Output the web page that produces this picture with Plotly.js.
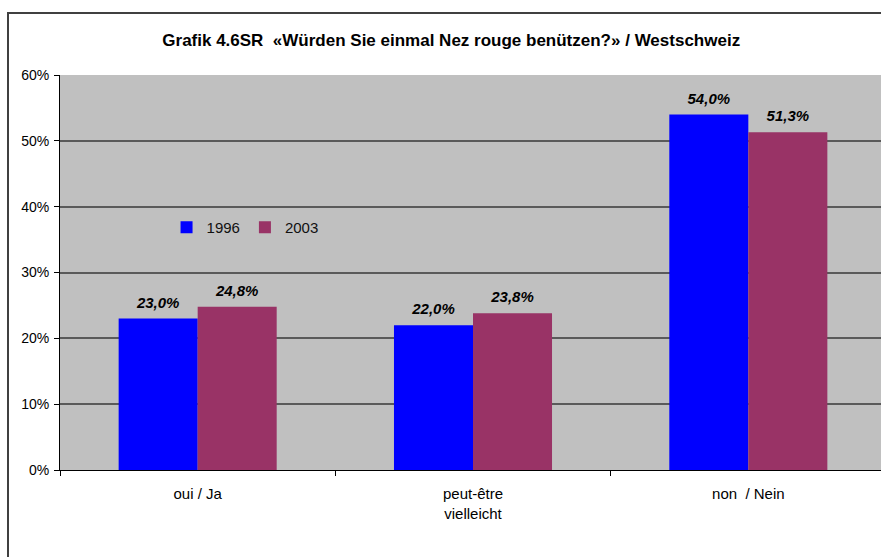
<!DOCTYPE html>
<html>
<head>
<meta charset="utf-8">
<script src="https://cdn.plot.ly/plotly-3.0.1.min.js"></script>
<style>
  body { margin: 0; overflow: hidden; background: #fff; }
  #frame { position: absolute; left: 7px; top: 12px; width: 900px; height: 600px;
           border: 2px solid #404040; pointer-events: none; z-index: 10; }
</style>
</head>
<body>
<div id="myDiv" style="width:890px;height:557px;"></div>
<div id="frame"></div>
<script>
var categories = ['oui / Ja', 'peut-être<br>vielleicht', 'non  / Nein'];
var years = ['1996', '2003'];
var values1996 = [0.230, 0.220, 0.540];
var values2003 = [0.248, 0.238, 0.513];
var colors = ['#0000ff', '#993366'];

var labelFont = { family: 'Arial, Liberation Sans', size: 15, color: '#000', weight: 'bold', style: 'italic' };

var series = [values1996, values2003];
var data = [];

// bars
series.forEach(function (vals, i) {
  data.push({
    x: categories,
    y: vals,
    type: 'bar',
    name: years[i],
    marker: { color: colors[i] },
    hoverinfo: 'skip'
  });
});

// value labels, grouped like the bars (hidden markers give the gap above the bar)
series.forEach(function (vals, i) {
  data.push({
    x: categories,
    y: vals,
    type: 'scatter',
    mode: 'markers+text',
    showlegend: false,
    texttemplate: '%{y:.1%}',
    textposition: 'top center',
    textfont: labelFont,
    marker: { size: 10, opacity: 0 },
    cliponaxis: false
  });
});

var layout = {
  width: 890,
  height: 557,
  margin: { l: 60, r: 4, t: 75, b: 87 },
  paper_bgcolor: 'rgba(0,0,0,0)',
  plot_bgcolor: '#c0c0c0',
  separators: ',.',
  font: { family: 'Arial, Liberation Sans', size: 14, color: '#000' },
  title: {
    text: 'Grafik 4.6SR  «Würden Sie einmal Nez rouge benützen?» / Westschweiz',
    font: { family: 'Arial, Liberation Sans', size: 17, color: '#000', weight: 'bold' },
    xref: 'container', x: 0.507, xanchor: 'center',
    yref: 'container', y: 0.928, yanchor: 'middle'
  },
  barmode: 'group',
  bargap: 0.426,
  bargroupgap: 0,
  scattermode: 'group',
  scattergap: 0.426,
  showlegend: true,
  legend: {
    orientation: 'h',
    x: 0.129, xanchor: 'left',
    y: 0.614, yanchor: 'middle',
    bgcolor: 'rgba(0,0,0,0)',
    font: { size: 15, color: '#111' },
    itemwidth: 30,
    traceorder: 'normal'
  },
  xaxis: {
    showline: true, linecolor: '#000', linewidth: 1,
    ticks: 'outside', tickson: 'boundaries', ticklen: 5, tickcolor: '#000',
    ticklabelstandoff: 10,
    tickfont: { size: 15 },
    showgrid: false
  },
  yaxis: {
    range: [0, 0.6],
    dtick: 0.1,
    tickformat: '.0%',
    showline: true, linecolor: '#000', linewidth: 1,
    ticks: 'outside', ticklen: 5, tickcolor: '#000',
    ticklabelstandoff: 2,
    showgrid: true, gridcolor: '#5a5a5a', gridwidth: 2,
    zeroline: false,
    fixedrange: true
  }
};

Plotly.newPlot('myDiv', data, layout, { displayModeBar: false });
</script>
</body>
</html>
